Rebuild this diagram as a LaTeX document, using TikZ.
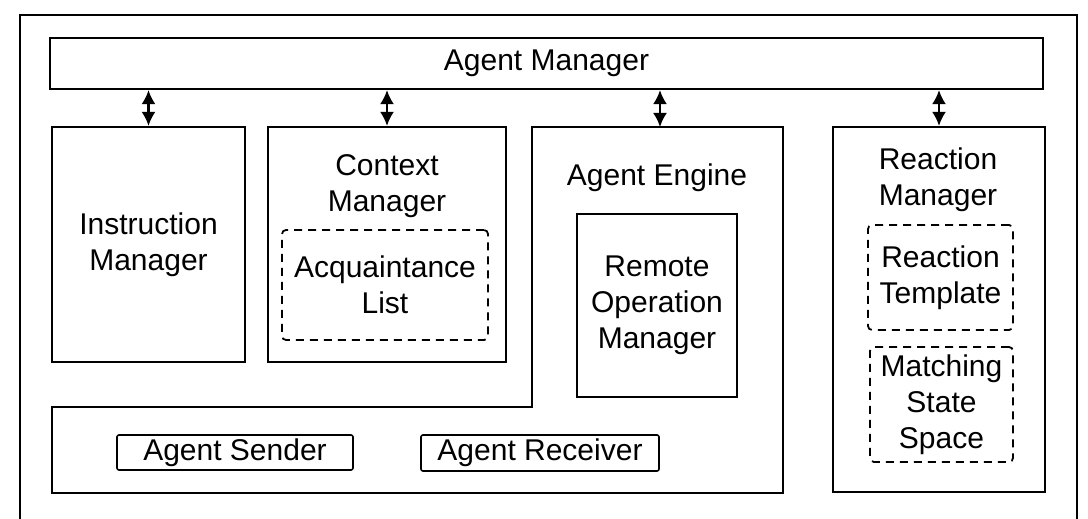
\documentclass[tikz,border=0pt]{standalone}
\usepackage{fontspec}
\setmainfont{Liberation Sans}
\usetikzlibrary{arrows.meta,fit}
\begin{document}
\begin{tikzpicture}[x=0.5pt,y=-0.5pt,
  box/.style={draw, line width=1.1pt, inner sep=0pt},
  dbox/.style={draw, line width=0.9pt, dash pattern=on 4pt off 3pt, rounded corners=2pt, inner sep=0pt},
  sbox/.style={draw, line width=0.8pt, rounded corners=1pt, inner sep=0pt},
  lbl/.style={font=\fontsize{15}{18}\selectfont, align=center, inner sep=0pt},
  link/.style={line width=1.1pt, {Latex[length=7pt,width=7pt]}-{Latex[length=7pt,width=7pt]}}]
\useasboundingbox (0,0) rectangle (1088,519);

% outer frame (runs past the lower edge)
\draw[line width=1.2pt] (20,519) -- (20,15) -- (1077,15) -- (1077,519);

% agent manager bar
\node[box, fit={(50,38) (1043,89)}] (am) {};
\node[lbl] (amlbl) at (am.center) {Agent Manager};

% instruction manager
\node[box, fit={(52,127) (245,362)}] (ins) {};
\node[lbl] (inslbl) at (ins.center) {Instruction\\Manager};

% context manager with acquaintance list
\node[box, fit={(268,127) (506,362)}] (cm) {};
\node[lbl] (cmlbl) at (387,186) {Context\\Manager};
\node[dbox, fit={(282,230) (488,340)}] (acq) {};
\node[lbl] (acqlbl) at (acq.center) {Acquaintance\\List};

% agent engine: L-shaped outline with the sender/receiver strip
\draw[line width=1.1pt] (532,127) -- (783,127) -- (783,493) -- (52,493)
  -- (52,407) -- (532,407) -- cycle;
\coordinate (eng) at (660,127);
\node[lbl] (englbl) at (657,178) {Agent Engine};
\node[box, line width=1pt, fit={(577,214) (737,397)}] (rom) {};
\node[lbl] (romlbl) at (rom.center) {Remote\\Operation\\Manager};
\node[sbox, fit={(117,435) (353,470)}] (snd) {};
\node[lbl] (sndlbl) at (snd.center) {Agent Sender};
\node[sbox, fit={(421,435) (659,471)}] (rcv) {};
\node[lbl] (rcvlbl) at (rcv.center) {Agent Receiver};

% reaction manager
\node[box, fit={(833,127) (1045,492)}] (rm) {};
\node[lbl] (rmlbl) at (938,180) {Reaction\\Manager};
\node[dbox, fit={(868,225) (1013,330)}] (rt) {};
\node[lbl] (rtlbl) at (rt.center) {Reaction\\Template};
\node[dbox, fit={(870,347) (1013,462)}] (mss) {};
\node[lbl] (msslbl) at (mss.center) {Matching\\State\\Space};

% links to the agent manager
\draw[link] (ins.north |- am.south) -- (ins.north);
\draw[link] (cm.north |- am.south) -- (cm.north);
\draw[link] (eng |- am.south) -- (eng);
\draw[link] (rm.north |- am.south) -- (rm.north);
\end{tikzpicture}
\end{document}
